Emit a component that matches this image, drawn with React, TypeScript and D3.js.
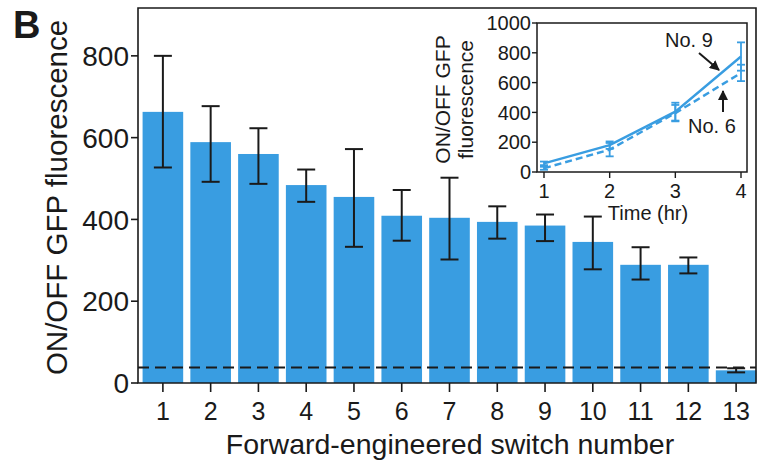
import React from 'react';
import * as d3 from 'd3';

// main panel: ON/OFF ratio per forward-engineered switch
const switches = ['1', '2', '3', '4', '5', '6', '7', '8', '9', '10', '11', '12', '13'];
const onOff = [663, 589, 560, 484, 455, 409, 404, 394, 385, 345, 289, 289, 31];
const errUpper = [800, 677, 623, 522, 572, 472, 502, 432, 412, 407, 332, 307, 36];
const errLower = [527, 492, 487, 443, 333, 348, 302, 353, 347, 278, 253, 268, 26];
const baseline = 38;
const yTicks = [0, 200, 400, 600, 800];

// inset: time course of switches No. 9 and No. 6
const hours = [1, 2, 3, 4];
const no9 = [58, 180, 405, 775];
const no9Err = [12, 25, 60, 95];
const no6 = [25, 150, 395, 665];
const no6Err = [10, 45, 55, 55];
const insetYTicks = [0, 200, 400, 600, 800, 1000];

const BLUE = '#399de1';
const FONT = '"Liberation Sans", Arial, Helvetica, sans-serif';
const INK = '#1a1a1a';

const App = () => {
  const W = 760;
  const H = 461;
  const m = { left: 138, right: 756, top: 8, bottom: 383 };

  const x = d3
    .scaleBand<string>()
    .domain(switches)
    .range([m.left + 1, 760])
    .paddingInner(0.15)
    .paddingOuter(0.075);

  const y = d3.scaleLinear().domain([0, 917]).range([m.bottom, m.top]);

  // inset frame
  const ib = { left: 537, right: 747, top: 23, bottom: 172 };
  const ix = d3.scaleLinear().domain([1, 4]).range([544, 741]);
  const iy = d3.scaleLinear().domain([0, 1000]).range([ib.bottom, ib.top]);
  const line = d3
    .line<number>()
    .x((_, i) => ix(hours[i]))
    .y((d) => iy(d));

  const series = [
    { vals: no9, errs: no9Err, dash: undefined },
    { vals: no6, errs: no6Err, dash: '7,4' },
  ];

  return (
    <svg
      width={W}
      height={H}
      style={{ position: 'absolute', left: 0, top: 0, background: '#fff' }}
      fontFamily={FONT}
    >
      <text x={13} y={38} fontSize={38} fontWeight="bold" fill={INK}>
        B
      </text>

      {/* bars */}
      {switches.map((s, i) => (
        <rect
          key={s}
          x={x(s)}
          y={y(onOff[i])}
          width={x.bandwidth()}
          height={y(0) - y(onOff[i])}
          fill={BLUE}
        />
      ))}

      {/* error bars */}
      {switches.map((s, i) => {
        const cx = (x(s) as number) + x.bandwidth() / 2;
        const cw = 9;
        return (
          <g key={'e' + s} stroke={INK} strokeWidth={2} fill="none">
            <line x1={cx} x2={cx} y1={y(errUpper[i])} y2={y(errLower[i])} />
            <line x1={cx - cw} x2={cx + cw} y1={y(errUpper[i])} y2={y(errUpper[i])} />
            <line x1={cx - cw} x2={cx + cw} y1={y(errLower[i])} y2={y(errLower[i])} />
          </g>
        );
      })}

      {/* OFF-state threshold */}
      <line
        x1={m.left}
        x2={m.right}
        y1={y(baseline)}
        y2={y(baseline)}
        stroke={INK}
        strokeWidth={2}
        strokeDasharray="11,6"
      />

      {/* frame */}
      <path
        d={`M${m.left},${m.bottom}V${m.top}H${m.right}V${m.bottom}Z`}
        fill="none"
        stroke={INK}
        strokeWidth={1.6}
      />

      {/* y axis */}
      {yTicks.map((t) => (
        <g key={'yt' + t}>
          <line x1={m.left - 7} x2={m.left} y1={y(t)} y2={y(t)} stroke={INK} strokeWidth={1.6} />
          <text
            x={m.left - 9}
            y={y(t)}
            dy="0.36em"
            textAnchor="end"
            fontSize={28}
            fill={INK}
          >
            {t}
          </text>
        </g>
      ))}
      <text
        transform={`translate(67,${(m.top + m.bottom) / 2 + 2}) rotate(-90)`}
        textAnchor="middle"
        fontSize={29.5}
        fill={INK}
      >
        ON/OFF GFP fluorescence
      </text>

      {/* x axis */}
      {switches.map((s) => {
        const cx = (x(s) as number) + x.bandwidth() / 2;
        return (
          <g key={'xt' + s}>
            <line x1={cx} x2={cx} y1={m.bottom} y2={m.bottom + 9} stroke={INK} strokeWidth={1.6} />
            <text x={cx} y={420} textAnchor="middle" fontSize={25} fill={INK}>
              {s}
            </text>
          </g>
        );
      })}
      <text x={450} y={454} textAnchor="middle" fontSize={28.5} fill={INK}>
        Forward-engineered switch number
      </text>

      {/* inset */}
      <rect
        x={ib.left}
        y={ib.top}
        width={ib.right - ib.left}
        height={ib.bottom - ib.top}
        fill="#fff"
        stroke={INK}
        strokeWidth={1.5}
      />
      {insetYTicks.map((t) => (
        <g key={'iyt' + t}>
          <line x1={ib.left - 5} x2={ib.left} y1={iy(t)} y2={iy(t)} stroke={INK} strokeWidth={1.4} />
          <text x={ib.left - 6} y={iy(t)} dy="0.36em" textAnchor="end" fontSize={20} fill={INK}>
            {t}
          </text>
        </g>
      ))}
      {hours.map((h) => (
        <g key={'ixt' + h}>
          <line x1={ix(h)} x2={ix(h)} y1={ib.bottom} y2={ib.bottom + 6} stroke={INK} strokeWidth={1.4} />
          <text x={ix(h)} y={198} textAnchor="middle" fontSize={20} fill={INK}>
            {h}
          </text>
        </g>
      ))}
      <text x={648} y={220} textAnchor="middle" fontSize={20} fill={INK}>
        Time (hr)
      </text>
      <text
        transform={`translate(450,${(ib.top + ib.bottom) / 2 + 2}) rotate(-90)`}
        textAnchor="middle"
        fontSize={21}
        fill={INK}
      >
        ON/OFF GFP
      </text>
      <text
        transform={`translate(473,${(ib.top + ib.bottom) / 2 + 2}) rotate(-90)`}
        textAnchor="middle"
        fontSize={21}
        fill={INK}
      >
        fluorescence
      </text>

      {series.map((sr, k) => (
        <g key={'s' + k}>
          <path
            d={line(sr.vals) || ''}
            fill="none"
            stroke={BLUE}
            strokeWidth={2.4}
            strokeDasharray={sr.dash}
          />
          {hours.map((h, i) => {
            const cx = ix(h);
            const hi = iy(sr.vals[i] + sr.errs[i]);
            const lo = iy(Math.max(0, sr.vals[i] - sr.errs[i]));
            return (
              <g key={'ie' + h} stroke={BLUE} strokeWidth={1.8}>
                <line x1={cx} x2={cx} y1={hi} y2={lo} />
                <line x1={cx - 4} x2={cx + 4} y1={hi} y2={hi} />
                <line x1={cx - 4} x2={cx + 4} y1={lo} y2={lo} />
              </g>
            );
          })}
        </g>
      ))}

      {/* annotations */}
      <defs>
        <marker id="ah" viewBox="0 0 10 10" refX="9" refY="5" markerWidth="5" markerHeight="5" orient="auto">
          <path d="M0,0L10,5L0,10Z" fill={INK} />
        </marker>
      </defs>
      <text x={665} y={47} fontSize={20} fill={INK}>
        No. 9
      </text>
      <line x1={699} y1={53} x2={719} y2={70} stroke={INK} strokeWidth={2} markerEnd="url(#ah)" />
      <text x={688} y={133} fontSize={20} fill={INK}>
        No. 6
      </text>
      <line x1={723} y1={112} x2={723} y2={91} stroke={INK} strokeWidth={2} markerEnd="url(#ah)" />
    </svg>
  );
};

export default App;
